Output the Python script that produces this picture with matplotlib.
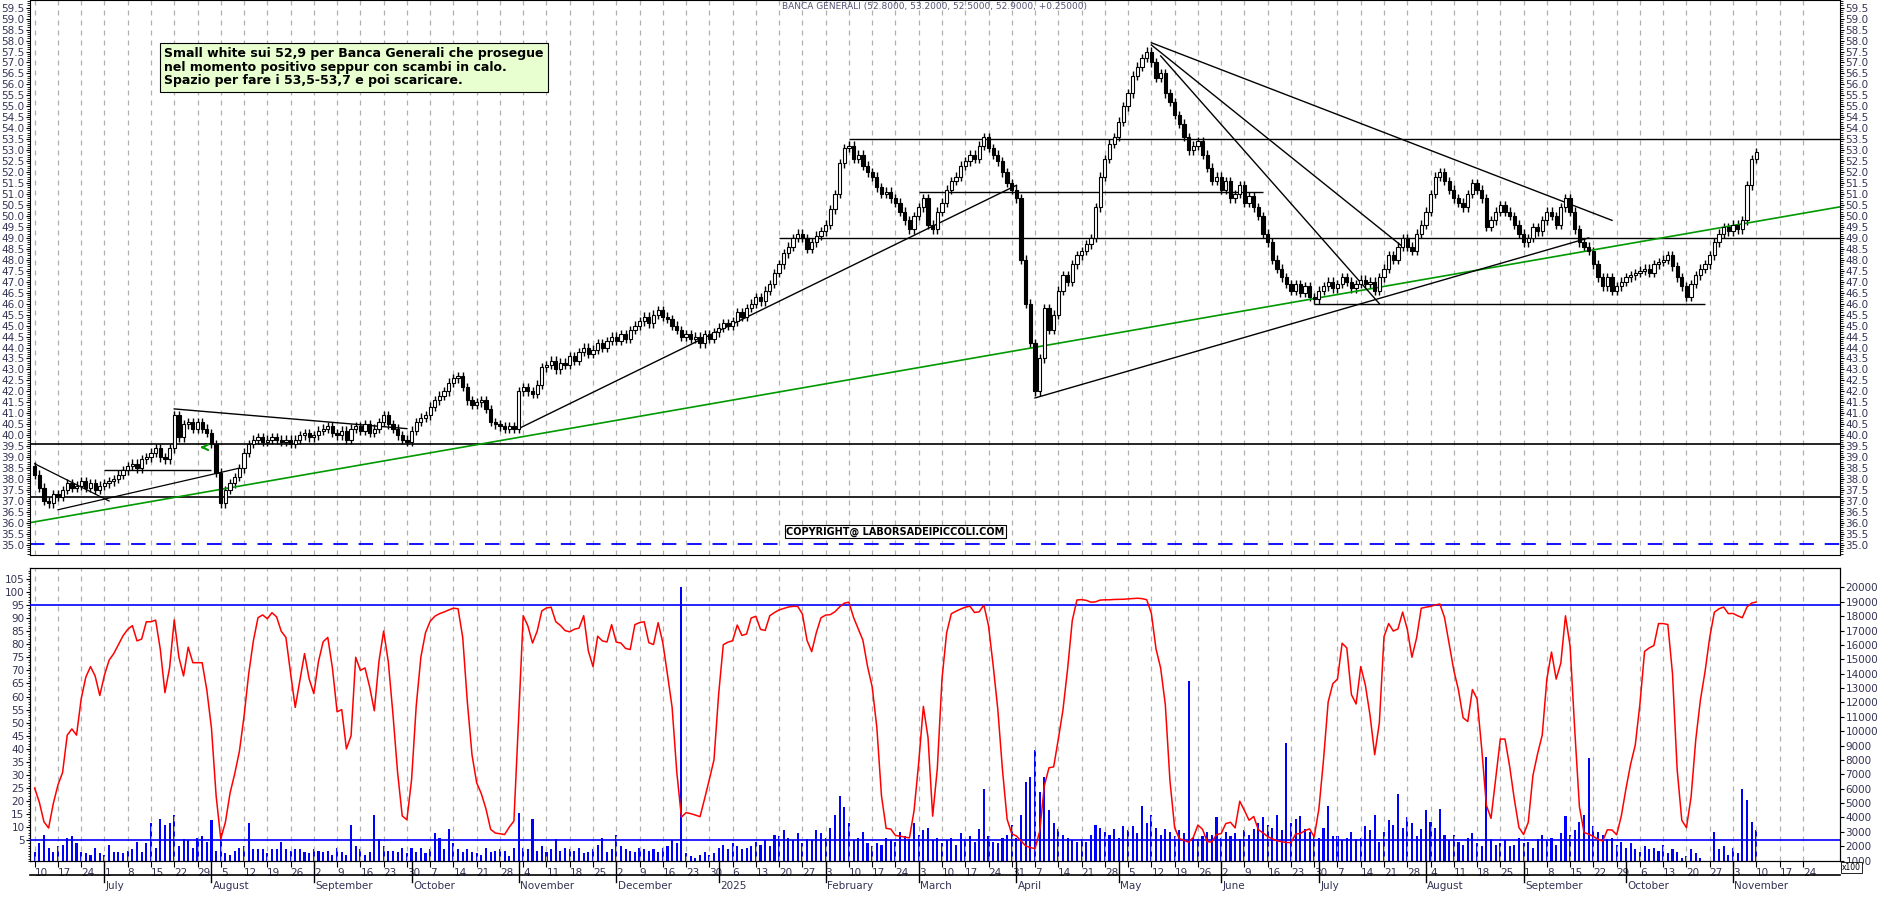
import numpy as np
import pandas as pd
import matplotlib
matplotlib.use("Agg")
import matplotlib.pyplot as plt
from matplotlib.patches import Rectangle

closes_weekly = [
 [38.2,37.6,37.0,36.9,37.3],[37.2,37.5,37.8,37.6,37.7],[37.9,37.6,37.8,37.5,37.7],
 [37.8,37.9,38.0,38.2,38.4],[38.6,38.7,38.5,38.9,39.0],[39.2,39.4,39.0,38.9,39.4],
 [40.9,39.9,40.5,40.6,40.3],[40.6,40.3,40.1,39.6,38.3],[36.9,37.5,37.8,38.1,38.5],
 [39.2,39.6,39.8,39.9,39.7],[39.8,39.9,39.8,39.7,39.8],[39.6,39.8,40.0,40.1,39.9],
 [40.0,40.2,40.3,40.4,40.1],[40.0,40.2,39.8,40.3,40.4],[40.2,40.5,40.1,40.3,40.6],
 [40.9,40.5,40.3,40.0,39.8],[39.7,40.2,40.6,40.8,40.9],[41.3,41.6,41.8,42.0,42.4],
 [42.6,42.7,42.2,41.6,41.4],[41.5,41.6,41.2,40.6,40.5],[40.4,40.3,40.4,40.3,42.0],
 [42.2,42.0,41.9,42.3,43.1],[43.2,43.4,43.0,43.3,43.2],[43.6,43.4,43.8,44.0,43.7],
 [43.9,44.2,44.0,44.3,44.5],[44.3,44.6,44.4,44.8,45.0],[45.2,45.4,45.1,45.5,45.7],
 [45.4,45.3,45.0,44.8,44.5],[44.6,44.4,44.5,44.2,44.6],[44.4,44.7,44.9,45.1,45.0],
 [45.2,45.6,45.4,45.8,46.0],[46.3,46.1,46.6,46.9,47.4],[47.8,48.3,48.6,49.0,49.2],
 [49.0,48.5,48.8,49.1,49.3],[49.6,50.3,51.0,52.4,53.1],[53.2,52.6,52.8,52.3,52.0],
 [51.8,51.3,51.0,51.1,50.8],[50.6,50.2,49.8,49.4,50.0],[50.4,50.8,49.6,49.4,50.2],
 [50.6,51.2,51.6,51.8,52.3],[52.5,52.8,52.6,53.2,53.6],[53.1,52.8,52.5,52.0,51.5],
 [51.2,50.8,48.0,46.0,44.2],[42.0,43.5,45.8,44.8,45.5],[46.6,47.3,47.0,47.8,48.2],
 [48.4,48.7,49.0,50.4,51.8],[52.6,53.3,53.6,54.3,55.0],[55.6,56.4,56.8,57.2,57.5],
 [57.0,56.3,56.5,55.6,55.2],[54.6,54.2,53.6,53.0,53.2],[53.4,52.8,52.2,51.6,51.8],
 [51.2,51.6,50.8,51.0,51.4],[50.6,50.9,50.4,50.0,49.2],[48.8,48.0,47.6,47.2,46.9],
 [46.6,46.9,46.5,46.8,46.3],[46.2,46.6,46.8,47.0,46.7],[46.9,47.2,47.0,46.7,46.9],
 [47.1,46.9,47.0,46.6,47.2],[47.6,48.2,48.0,48.6,49.0],[48.6,48.4,49.2,49.6,50.2],
 [51.0,51.8,52.0,51.6,51.2],[50.8,50.6,50.4,51.0,51.5],[51.2,50.8,49.5,49.8,50.2],
 [50.5,50.2,50.0,49.6,49.2],[48.8,49.0,49.5,49.3,49.8],[50.2,50.0,49.6,50.4,50.8],
 [50.2,49.4,48.8,48.6,48.4],[47.8,47.2,46.8,47.2,46.6],[46.8,47.0,47.2,47.3,47.4],
 [47.5,47.6,47.4,47.8,47.9],[48.0,48.2,47.7,47.2,46.8],[46.3,46.9,47.3,47.6,47.8],
 [48.2,48.8,49.2,49.5,49.3],[49.6,49.4,49.8,51.4,52.6],[52.9],
]
volume_weekly = [
 [1600,2200,2800,1900,1600],[2000,2100,2600,2700,2200],[1600,1500,1400,1900,1500],
 [1400,2100,1600,1600,1500],[1700,1800,2300,1600,2200],[3600,1900,3900,3500,3600],
 [4200,2000,2500,2400,1900],[2600,2700,2300,3800,1700],[2900,1500,1400,1700,1900],
 [2000,3600,1800,1800,1800],[1500,1800,1800,2300,1800],[1700,1800,1800,1600,1500],
 [1800,1700,1600,1700,1400],[1900,1600,1400,3500,2000],[1800,1400,1600,4200,2500],
 [2000,1700,1700,1600,1900],[1500,1900,1600,1900,1500],[1800,2900,2600,1800,3200],
 [2200,1800,1600,1800,1600],[1500,1400,1900,1600,1700],[1800,1700,1300,1900,4300],
 [1900,1800,3900,1700,2000],[1600,1800,2500,1700,1900],[1800,1700,1900,1500,1600],
 [1800,2100,2600,1600,1800],[2800,2000,1800,1700,1600],[1900,1800,1700,1800,1600],
 [1900,2000,2400,2200,20000],[1500,1300,1200,1400,1600],[1400,1500,1900,2100,1800],
 [2200,2000,1800,1900,2000],[2300,2100,2400,2000,2800],[2700,3100,2600,2400,2900],
 [2200,2500,2400,3100,2900],[2600,3300,4200,5500,4700],[3600,2400,2600,3000,2200],
 [2000,2200,2100,2600,2400],[2300,3000,2700,2500,3600],[2800,3100,3300,2400,2600],
 [2200,2400,2600,2100,2900],[2500,2700,2300,3200,6000],[2700,2300,2200,2600,2800],
 [3500,2600,4200,6500,6800],[8700,5800,6800,4500,3600],[3200,2800,2600,2400,2300],
 [2500,2300,2800,3500,3300],[3000,2800,3200,2600,3400],[3100,3400,2900,4800,3600],
 [4200,3300,2800,3200,3000],[2700,3100,2900,13500,2600],[2500,2700,3000,2800,4000],
 [2600,3000,2700,2900,2500],[3100,2800,3200,3600,4000],[3500,3300,4200,3100,9200],
 [3600,3900,4100,3200,3000],[2800,2600,3300,4800,2700],[2700,2400,2600,3000,2500],
 [2600,3400,3100,4200,2300],[3000,3800,3500,5600,3300],[4000,3600,2700,3200,4500],
 [3700,3300,4600,2800,2400],[2800,2300,2100,2600,2900],[2200,2000,8200,2500,2100],
 [2200,2400,2000,2100,2600],[2200,2300,1900,2500,2800],[2400,2600,2100,2900,4100],
 [2800,3100,3700,4200,8100],[3400,3000,2800,2500,2600],[2100,2300,1900,2200,1800],
 [1600,2000,1800,1900,1700],[2100,1500,1800,1600,1200],[1300,1800,1500,1200,900],
 [950,3000,1800,2000,1400],[1900,1500,6000,5200,3700],[3100],
]
closes = np.array([v for w in closes_weekly for v in w])
volumes = np.array([v for w in volume_weekly for v in w])
first_open = 38.6
dates = pd.bdate_range("2024-06-10", periods=len(closes))

opens = np.concatenate([[first_open], closes[:-1]])
highs = np.maximum(opens, closes) + 0.2
lows = np.minimum(opens, closes) - 0.2

# stochastic oscillator computed from the prices
n = 10
k = np.array([100 * (closes[i] - lows[max(0, i-n+1):i+1].min()) /
              max(1e-9, highs[max(0, i-n+1):i+1].max() - lows[max(0, i-n+1):i+1].min())
              for i in range(len(closes))])
stoch = pd.Series(k).rolling(2, min_periods=1).mean().values

all_days = pd.bdate_range("2024-06-10", "2025-11-28")
N = len(all_days)
def xi(d):
    return all_days.get_indexer([pd.Timestamp(d)], method="nearest")[0]

fig = plt.figure(figsize=(18.9, 9.02), dpi=100)
L, R = 30/1890, 1840/1890
axp = fig.add_axes([L, 0.385, R-L, 0.615])
axo = fig.add_axes([L, 0.045, R-L, 0.325])
axv = axo.twinx()

txtc = "#333355"
x = np.arange(len(closes))
for i in x:
    o, c = opens[i], closes[i]
    axp.vlines(i, lows[i], highs[i], color="black", lw=1)
    up = c >= o
    axp.add_patch(Rectangle((i-0.35, min(o, c)), 0.7, max(abs(c-o), 0.04),
                            facecolor="white" if up else "black", edgecolor="black", lw=0.8, zorder=3))

xmax = N + 3
mondays = [i for i, d in enumerate(all_days) if d.weekday() == 0]
for ax in (axp, axo):
    for m in mondays:
        ax.axvline(m, color="#b0b0b0", ls=(0, (4, 4)), lw=0.9, zorder=0)
    ax.set_xlim(-1, xmax)

axp.axhline(39.6, color="black", lw=1.2)
axp.axhline(37.2, color="black", lw=1.2)
axp.axhline(35.05, color="blue", lw=1.3, ls=(0, (8, 6)))
axp.hlines(53.5, xi("2025-02-10"), xmax, color="black", lw=1)
axp.hlines(49.0, xi("2025-01-20"), xmax, color="black", lw=1)
axp.hlines(51.1, xi("2025-03-03"), xi("2025-06-13"), color="black", lw=1)
axp.hlines(46.0, xi("2025-06-30"), xi("2025-10-24"), color="black", lw=1)
axp.hlines(38.4, xi("2024-07-01"), xi("2024-08-01"), color="black", lw=1)
def seg(d1, y1, d2, y2, **kw):
    axp.plot([xi(d1), xi(d2)], [y1, y2], **kw)
g0, g1 = xi("2024-06-10"), xi("2025-11-10")
slope = (49.75 - 36.05) / (g1 - g0)
axp.plot([-1, xmax], [36.05 + slope*(-1-g0), 36.05 + slope*(xmax-g0)], color="#009900", lw=1.2)
seg("2024-07-22", 41.2, "2024-09-30", 40.3, color="black", lw=1)
seg("2024-06-10", 38.7, "2024-07-02", 37.0, color="black", lw=0.9)
seg("2024-06-17", 36.6, "2024-08-09", 38.5, color="black", lw=0.9)
seg("2024-11-01", 40.3, "2025-04-01", 51.4, color="black", lw=1)
seg("2025-04-07", 41.7, "2025-09-19", 49.0, color="black", lw=1)
seg("2025-05-12", 57.9, "2025-09-26", 49.8, color="black", lw=1)
seg("2025-05-12", 57.8, "2025-07-25", 48.6, color="black", lw=1)
seg("2025-05-14", 57.3, "2025-07-18", 46.0, color="black", lw=1)
axp.annotate("", xy=(xi("2024-07-29"), 39.45), xytext=(xi("2024-07-31"), 39.45),
             arrowprops=dict(arrowstyle="->", color="#009900", lw=1.5))

axp.set_ylim(34.55, 59.85)
axp.set_yticks(np.arange(35, 59.6, 0.5))
axp.set_yticks(np.arange(34.6, 59.85, 0.1), minor=True)
axp.yaxis.set_major_formatter(matplotlib.ticker.FormatStrFormatter("%.1f"))
axp.tick_params(axis="y", which="both", left=True, right=True, labelleft=True, labelright=True,
                labelsize=7.5, labelcolor=txtc, length=3, direction="out", pad=1)
axp.tick_params(axis="y", which="minor", length=2)
axp.tick_params(axis="x", bottom=False, labelbottom=False)

axp.text(0.5, 0.997, "BANCA GENERALI (52.8000, 53.2000, 52.5000, 52.9000, +0.25000)",
         transform=axp.transAxes, ha="center", va="top", fontsize=6.5, color="#555577")
axp.text(0.074, 0.915, "Small white sui 52,9 per Banca Generali che prosegue\n"
         "nel momento positivo seppur con scambi in calo.\n"
         "Spazio per fare i 53,5-53,7 e poi scaricare.",
         transform=axp.transAxes, ha="left", va="top", fontsize=9, fontweight="bold",
         linespacing=1.05,
         bbox=dict(boxstyle="square,pad=0.35", fc="#e8ffd0", ec="black", lw=0.8))
axp.text(xi("2025-02-24"), 35.6, "COPYRIGHT@ LABORSADEIPICCOLI.COM", ha="center", va="center",
         fontsize=7, fontweight="bold", color="black",
         bbox=dict(boxstyle="square,pad=0.15", fc="white", ec="black", lw=0.8))

lo, hi = -3, 109
a, b = 182.0, 1490.0
axo.set_ylim(lo, hi)
axv.set_ylim(a*lo + b, a*hi + b)
axv.bar(x, volumes - (a*lo + b), bottom=a*lo + b, width=0.45, color="blue", zorder=2)
axo.set_zorder(axv.get_zorder() + 1)
axo.patch.set_visible(False)
axo.plot(x, stoch, color="red", lw=1.1, zorder=4)
axo.axhline(95, color="blue", lw=1.2, zorder=3)
axo.axhline(5, color="blue", lw=1.2, zorder=3)
axo.set_yticks(np.arange(5, 106, 5))
axo.set_yticks(np.arange(-3, 109, 1), minor=True)
axo.tick_params(axis="y", which="both", labelsize=7.5, labelcolor=txtc, length=3, pad=1)
axo.tick_params(axis="y", which="minor", length=1.5)
axv.set_yticks(np.arange(1000, 20001, 1000))
axv.tick_params(axis="y", labelsize=7.5, labelcolor=txtc, length=3, pad=1)
axv.text(1.001, -0.005, "x100", transform=axv.transAxes, fontsize=5.5, va="top", ha="left",
         bbox=dict(boxstyle="square,pad=0.1", fc="white", ec="black", lw=0.6))

axo.set_xticks(mondays)
axo.set_xticklabels([str(all_days[m].day) for m in mondays])
axo.tick_params(axis="x", labelsize=7.5, labelcolor=txtc, length=4, pad=1)
for lbl in axo.get_xticklabels():
    lbl.set_ha("left")

month_starts = [i for i in range(N) if i == 0 or all_days[i].month != all_days[i-1].month]
for i in month_starts[1:]:
    d = all_days[i]
    name = "2025" if (d.month == 1 and d.year == 2025) else d.strftime("%B")
    axo.annotate(name, xy=(i, 0), xycoords=("data", "axes fraction"), xytext=(1, -14),
                 textcoords="offset points", fontsize=7.5, color=txtc, ha="left", va="top",
                 annotation_clip=False)
    line = plt.Line2D([i, i], [0, -0.07], transform=axo.get_xaxis_transform(), color="black",
                      lw=1, clip_on=False)
    axo.add_line(line)
line = plt.Line2D([0, 1], [-0.045, -0.045], transform=axo.transAxes, color="black", lw=1.2, clip_on=False)
axo.add_line(line)

fig.savefig("out.png", dpi=100)
